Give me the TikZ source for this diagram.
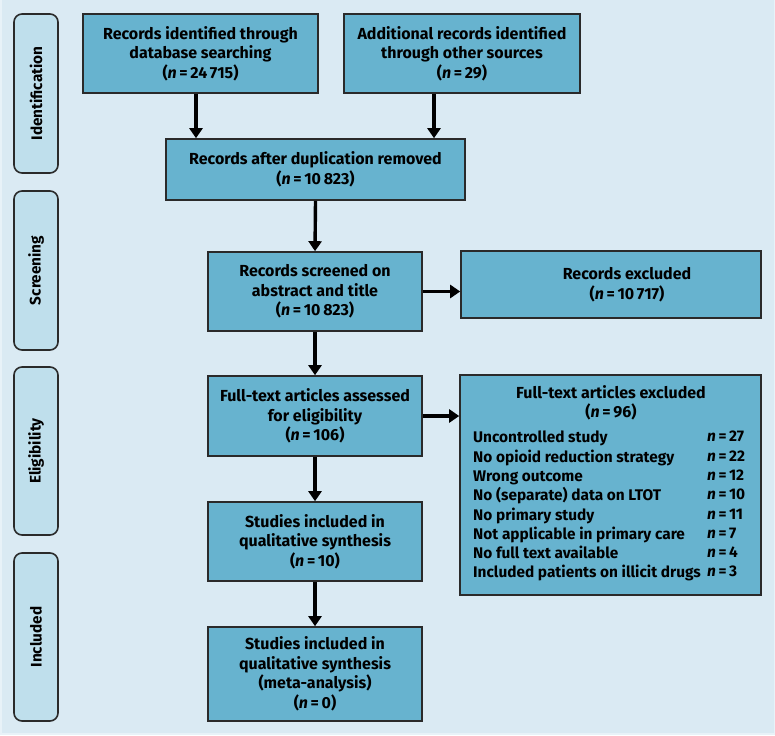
\documentclass[tikz,border=0pt]{standalone}
\usepackage{fontspec}
\setmainfont{Fira Sans}
\usetikzlibrary{arrows.meta}
\definecolor{bgc}{HTML}{DAEAF3}
\definecolor{edgec}{HTML}{E8F2F8}
\definecolor{boxc}{HTML}{67B3CF}
\definecolor{sidec}{HTML}{BFDFEC}
\definecolor{linec}{HTML}{2A2A2A}
\tikzset{
  box/.style={draw=linec, line width=1.6pt, fill=boxc, inner sep=0pt, align=center,
    font=\bfseries\fontsize{16}{19.5}\selectfont, text=black},
  side/.style={draw=linec, line width=1.6pt, fill=sidec, rounded corners=8pt, inner sep=0pt,
    minimum width=44pt},
  sidetxt/.style={rotate=90, font=\bfseries\fontsize{15.3}{16}\selectfont},
  txt/.style={inner sep=0pt, font=\bfseries\fontsize{16}{19.5}\selectfont},
  arr/.style={line width=3.4pt, draw=black, -{Triangle[length=10pt,width=13pt]}}
}
\newcommand{\nn}[1]{(\textit{n}\,=\,#1)}
\newcommand{\nitem}[1]{\textit{n}\,=\,#1}
\begin{document}
\begin{tikzpicture}[x=1pt,y=-1pt]
\fill[edgec] (0,0) rectangle (775,735);
\fill[bgc] (1.5,0) rectangle (773.5,733);
\useasboundingbox (0,0) rectangle (775,735);
% side labels
\node[side, minimum height=159pt] (s1) at (36,93.5) {};
\node[sidetxt] (s1t) at (s1.center) {Identification};
\node[side, minimum height=159pt] (s2) at (36,270.5) {};
\node[sidetxt] (s2t) at (s2.center) {Screening};
\node[side, minimum height=168pt] (s3) at (36,451) {};
\node[sidetxt] (s3t) at (s3.center) {Eligibility};
\node[side, minimum height=168pt] (s4) at (36,637) {};
\node[sidetxt] (s4t) at (s4.center) {Included};
% boxes
\node[box, minimum width=235pt, minimum height=79pt] (b1) at (200.5,53.5)
  {Records identified through\\database searching\\\nn{24\,715}};
\node[box, minimum width=236pt, minimum height=79pt] (b2) at (462,53.5)
  {Additional records identified\\through other sources\\\nn{29}};
\node[box, minimum width=299pt, minimum height=61pt] (b3) at (315.5,169.5)
  {Records after duplication removed\\\nn{10\,823}};
\node[box, minimum width=214pt, minimum height=79pt] (b4) at (315,291.5)
  {Records screened on\\abstract and title\\\nn{10\,823}};
\node[box, minimum width=300pt, minimum height=67pt] (b5) at (611,284.5) {};
\node[txt, align=center] (b5t) at (627,284.5) {Records excluded\\\nn{10\,717}};
\node[box, minimum width=214pt, minimum height=80pt] (b6) at (315,416)
  {Full-text articles assessed\\for eligibility\\\nn{106}};
\node[box, minimum width=301pt, minimum height=220pt] (b7) at (610.5,485) {};
\node[txt, align=center, anchor=north] (b7t) at (611,385) {Full-text articles excluded\\\nn{96}};
\node[txt, align=left, anchor=north west, font=\bfseries\fontsize{15.4}{19.3}\selectfont] (b7l) at (473,431)
  {Uncontrolled study\\No opioid reduction strategy\\Wrong outcome\\No (separate) data on LTOT\\No primary study\\Not applicable in primary care\\No full text available\\Included patients on illicit drugs};
\node[txt, align=left, anchor=north west, font=\bfseries\fontsize{15.4}{19.3}\selectfont] (b7r) at (707,431)
  {\nitem{27}\\\nitem{22}\\\nitem{12}\\\nitem{10}\\\nitem{11}\\\nitem{7}\\\nitem{4}\\\nitem{3}};
\node[box, minimum width=214pt, minimum height=79pt] (b8) at (315,541.5)
  {Studies included in\\qualitative synthesis\\\nn{10}};
\node[box, minimum width=214pt, minimum height=94pt] (b9) at (315,674)
  {Studies included in\\qualitative synthesis\\(meta-analysis)\\\nn{0}};
% arrows
\draw[arr] ([xshift=-4.5pt]b1.south) -- ([xshift=-4.5pt]b1.south |- b3.north);
\draw[arr] ([xshift=-28pt]b2.south) -- ([xshift=-28pt]b2.south |- b3.north);
\draw[arr] (b3.south) -- (b4.north);
\draw[arr] (b4.east) -- (b4.east -| b5.west);
\draw[arr] (b4.south) -- (b6.north);
\draw[arr] (b6.east) -- (b6.east -| b7.west);
\draw[arr] (b6.south) -- (b8.north);
\draw[arr] (b8.south) -- (b9.north);
\end{tikzpicture}
\end{document}
